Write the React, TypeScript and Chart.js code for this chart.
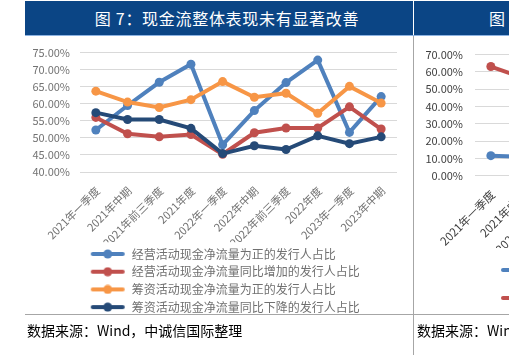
import React, { useEffect, useRef } from "react";
import { Chart, registerables } from "chart.js";
Chart.register(...registerables);

const FONT = "'Noto Sans CJK SC', 'Noto Sans', sans-serif";

// ---- main chart data ----
const categories = [
  "2021年一季度", "2021年中期", "2021年前三季度", "2021年度", "2022年一季度",
  "2022年中期", "2022年前三季度", "2022年度", "2023年一季度", "2023年中期",
];
const seriesNames = [
  "经营活动现金净流量为正的发行人占比",
  "经营活动现金净流量同比增加的发行人占比",
  "筹资活动现金净流量为正的发行人占比",
  "筹资活动现金净流量同比下降的发行人占比",
];
const opPositive = [52.3, 59.5, 66.3, 71.6, 48.0, 58.0, 66.2, 72.8, 51.6, 62.1];
const opIncrease = [56.0, 51.2, 50.3, 51.0, 45.2, 51.5, 52.9, 52.9, 59.1, 52.6];
const finPositive = [63.7, 60.5, 58.9, 61.2, 66.5, 61.9, 63.1, 57.2, 65.1, 60.2];
const finDecrease = [57.4, 55.4, 55.4, 52.8, 45.4, 47.7, 46.6, 50.6, 48.3, 50.3];
const seriesColors = ["#4F81BD", "#C0504D", "#F79646", "#254A77"];
const yMin = 40;
const yMax = 75;
const yStep = 5;

// ---- partially visible neighbouring chart (cut off at the right edge) ----
const rightBlue = [11.6, 10.9, null, null, null, null, null, null, null, null];
const rightRed = [63.1, 56.7, null, null, null, null, null, null, null, null];
const rightColors = ["#4F81BD", "#C0504D"];
const rMin = 0;
const rMax = 70;
const rStep = 10;

const title = "图 7：现金流整体表现未有显著改善";
const source = "数据来源：Wind，中诚信国际整理";

const AXIS_COLOR = "#737373";
const LEGEND_COLOR = "#707070";

function legendImage(color: string, width: number, margin: number, lineLen: number) {
  const c = document.createElement("canvas");
  c.width = width;
  c.height = 10;
  const ctx = c.getContext("2d")!;
  ctx.strokeStyle = color;
  ctx.lineWidth = 4;
  ctx.lineCap = "round";
  ctx.beginPath();
  ctx.moveTo(margin + 2, 5);
  ctx.lineTo(margin + lineLen - 2, 5);
  ctx.stroke();
  ctx.fillStyle = color;
  ctx.beginPath();
  ctx.arc(margin + lineLen / 2, 5, 4.5, 0, Math.PI * 2);
  ctx.fill();
  return c;
}

function MainChart() {
  const ref = useRef<HTMLCanvasElement>(null);
  useEffect(() => {
    const data = [opPositive, opIncrease, finPositive, finDecrease];
    const imgs = seriesColors.map((c) => legendImage(c, 40, 5, 34));
    const chart = new Chart(ref.current!, {
      type: "line",
      data: {
        labels: categories,
        datasets: data.map((d, i) => ({
          label: seriesNames[i],
          data: d,
          borderColor: seriesColors[i],
          backgroundColor: seriesColors[i],
          pointBackgroundColor: seriesColors[i],
          pointBorderColor: seriesColors[i],
          borderWidth: 4,
          pointRadius: 4.5,
          pointBorderWidth: 0,
          tension: 0,
          order: 4 - i,
        })),
      },
      options: {
        animation: false,
        responsive: false,
        maintainAspectRatio: false,
        layout: { padding: { left: 0, right: 16, top: 10, bottom: 2.9 } },
        scales: {
          x: {
            offset: true,
            grid: { display: false, drawTicks: false },
            border: { display: false },
            ticks: {
              minRotation: 45,
              maxRotation: 45,
              autoSkip: false,
              color: AXIS_COLOR,
              font: { size: 11, family: FONT },
              padding: 12,
              labelOffset: 2,
            },
            afterFit: (s: any) => {
              s.height = 70.3;
            },
          },
          y: {
            min: yMin,
            max: yMax,
            ticks: {
              stepSize: yStep,
              autoSkip: false,
              callback: (v: any) => Number(v).toFixed(2) + "%",
              color: AXIS_COLOR,
              font: { size: 11, family: FONT },
              padding: 10,
            },
            grid: { color: "#D9D9D9", drawTicks: false, lineWidth: 1 },
            border: { display: false },
            afterFit: (s: any) => {
              s.width = 55;
            },
          },
        },
        plugins: {
          legend: {
            position: "bottom",
            align: "start",
            fullSize: false,
            labels: {
              usePointStyle: true,
              pointStyleWidth: 40,
              padding: 5.7,
              color: LEGEND_COLOR,
              font: { size: 12, family: FONT },
              sort: (a: any, b: any) => a.datasetIndex - b.datasetIndex,
              generateLabels: (ch: any) => {
                const items = (Chart.defaults.plugins.legend.labels as any).generateLabels(ch);
                items.forEach((it: any) => {
                  it.pointStyle = imgs[it.datasetIndex];
                });
                return items;
              },
            },
          },
          tooltip: { enabled: false },
        },
      } as any,
    });
    return () => chart.destroy();
  }, []);
  return (
    <canvas
      ref={ref}
      width={388}
      height={290}
      style={{ position: "absolute", left: 25, top: 36, width: 388, height: 290 }}
    />
  );
}

function RightChart() {
  const ref = useRef<HTMLCanvasElement>(null);
  useEffect(() => {
    const data = [rightBlue, rightRed];
    // wide transparent legend symbols so each (hidden) legend entry takes its own row
    const imgs = rightColors.map((c) => legendImage(c, 150, 10, 34));
    const chart = new Chart(ref.current!, {
      type: "line",
      data: {
        labels: categories,
        datasets: data.map((d, i) => ({
          label: "",
          data: d,
          borderColor: rightColors[i],
          backgroundColor: rightColors[i],
          pointBackgroundColor: rightColors[i],
          pointBorderColor: rightColors[i],
          borderWidth: 4,
          pointRadius: 4.5,
          pointBorderWidth: 0,
          tension: 0,
        })),
      },
      options: {
        animation: false,
        responsive: false,
        maintainAspectRatio: false,
        layout: { padding: { left: 0, right: 16, top: 15, bottom: 2 } },
        scales: {
          x: {
            offset: true,
            grid: { display: false, drawTicks: false },
            border: { display: false },
            ticks: {
              minRotation: 45,
              maxRotation: 45,
              autoSkip: false,
              color: "#404040",
              font: { size: 11.5, family: FONT },
              padding: 12,
              labelOffset: 2,
            },
            afterFit: (s: any) => {
              s.height = 72.3;
            },
          },
          y: {
            min: rMin,
            max: rMax,
            ticks: {
              stepSize: rStep,
              autoSkip: false,
              callback: (v: any) => Number(v).toFixed(2) + "%",
              color: "#404040",
              font: { size: 11, family: FONT },
              padding: 12,
            },
            grid: { color: "#D9D9D9", drawTicks: false, lineWidth: 1 },
            border: { display: false },
            afterFit: (s: any) => {
              s.width = 61;
            },
          },
        },
        plugins: {
          legend: {
            position: "bottom",
            align: "start",
            fullSize: false,
            labels: {
              usePointStyle: true,
              pointStyleWidth: 150,
              padding: 16,
              color: LEGEND_COLOR,
              font: { size: 12, family: FONT },
              generateLabels: (ch: any) => {
                const items = (Chart.defaults.plugins.legend.labels as any).generateLabels(ch);
                items.forEach((it: any) => {
                  it.pointStyle = imgs[it.datasetIndex];
                });
                return items;
              },
            },
          },
          tooltip: { enabled: false },
        },
      } as any,
    });
    return () => chart.destroy();
  }, []);
  return (
    <div style={{ position: "absolute", left: 414, top: 36, width: 95, height: 278, overflow: "hidden" }}>
      <canvas ref={ref} width={394} height={280} style={{ position: "absolute", left: 0, top: 0, width: 394, height: 280 }} />
    </div>
  );
}

export default function App() {
  const bar = "#0B4585";
  return (
    <div
      style={{
        position: "absolute",
        left: 0,
        top: 0,
        width: 509,
        height: 355,
        background: "#fff",
        overflow: "hidden",
        fontFamily: FONT,
      }}
    >
      <div
        style={{
          position: "absolute",
          left: 25,
          top: 1,
          width: 388,
          height: 34,
          background: bar,
          color: "#fff",
          fontSize: 16,
          lineHeight: "34px",
          textAlign: "center",
          whiteSpace: "nowrap",
          letterSpacing: 0.7,
        }}
      >
        <span style={{ position: "relative", left: 8 }}>{title}</span>
      </div>
      <div
        style={{
          position: "absolute",
          left: 414,
          top: 1,
          width: 95,
          height: 34,
          background: bar,
          color: "#fff",
          fontSize: 16,
          lineHeight: "34px",
          whiteSpace: "nowrap",
          overflow: "hidden",
        }}
      >
        <span style={{ position: "absolute", left: 75 }}>图</span>
      </div>
      <div style={{ position: "absolute", left: 25, top: 35, width: 484, height: 1, background: "#8DB3E2" }} />
      <MainChart />
      <RightChart />
      <div style={{ position: "absolute", left: 413, top: 36, width: 1, height: 319, background: "#A6A6A6" }} />
      <div style={{ position: "absolute", left: 25, top: 314, width: 484, height: 1, background: "#A6A6A6" }} />
      <div
        style={{
          position: "absolute",
          left: 27,
          top: 319,
          fontSize: 14,
          lineHeight: "22px",
          color: "#000",
          whiteSpace: "nowrap",
        }}
      >
        {source}
      </div>
      <div
        style={{
          position: "absolute",
          left: 417,
          top: 319,
          width: 92,
          overflow: "hidden",
          fontSize: 14,
          lineHeight: "22px",
          color: "#000",
          whiteSpace: "nowrap",
        }}
      >
        {source}
      </div>
    </div>
  );
}
